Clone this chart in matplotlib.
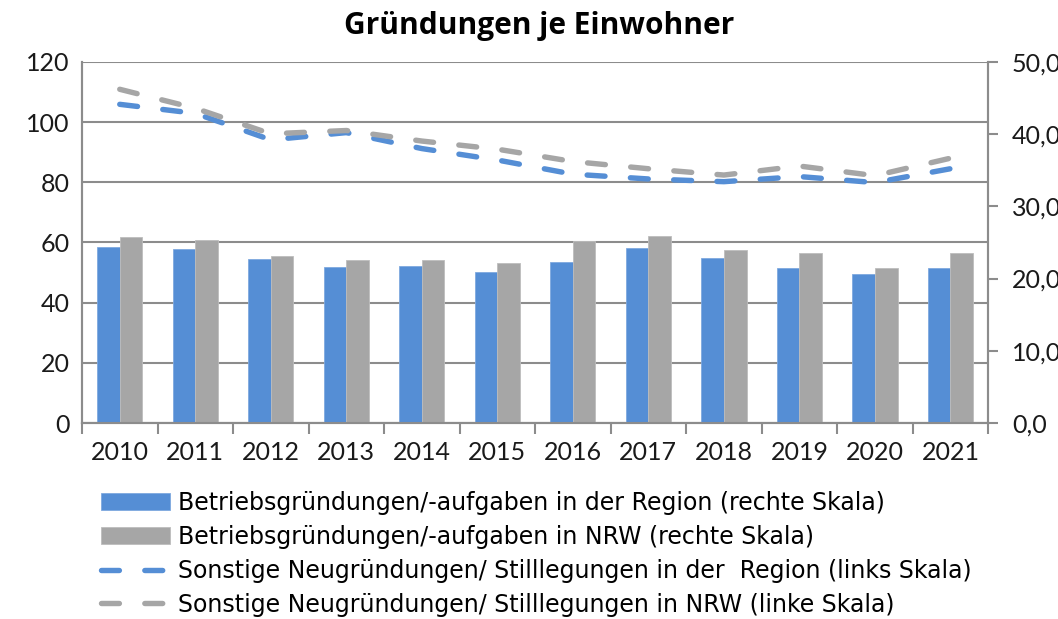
import matplotlib
matplotlib.use("Agg")
import matplotlib.pyplot as plt
import numpy as np
from matplotlib.ticker import FuncFormatter, FixedLocator

# --- data ---
years = ["2010", "2011", "2012", "2013", "2014", "2015",
         "2016", "2017", "2018", "2019", "2020", "2021"]
bars_region = [24.4, 24.1, 22.7, 21.6, 21.8, 20.9, 22.3, 24.2, 22.8, 21.4, 20.6, 21.5]
bars_nrw = [25.7, 25.3, 23.1, 22.6, 22.6, 22.1, 25.2, 25.9, 24.0, 23.6, 21.5, 23.6]
lines_region = [105.9, 102.9, 94.1, 96.5, 91.2, 87.4, 82.7, 81.1, 80.2, 81.9, 79.9, 84.5]
lines_nrw = [110.9, 104.6, 96.1, 97.2, 93.7, 91.0, 86.9, 84.5, 82.4, 85.4, 82.2, 88.0]

labels = [
    "Betriebsgründungen/-aufgaben in der Region (rechte Skala)",
    "Betriebsgründungen/-aufgaben in NRW (rechte Skala)",
    "Sonstige Neugründungen/ Stilllegungen in der  Region (links Skala)",
    "Sonstige Neugründungen/ Stilllegungen in NRW (linke Skala)",
]

BLUE = "#558ed5"
GRAY = "#a6a6a6"
AXIS = "#8c8c8c"

plt.rcParams["font.family"] = ["Lato", "DejaVu Sans"]

fig = plt.figure(figsize=(10.58, 6.19), dpi=100)
ax = fig.add_axes([0.0775, 0.3166, 0.8565, 0.5834])
ax2 = ax.twinx()

x = np.arange(len(years))
w = 0.3

# --- lines on the left scale ---
dash = dict(lw=3.9, dashes=(3.3, 4.7), dash_capstyle="round", solid_capstyle="round")
l1, = ax.plot(x, lines_region, color=BLUE, label=labels[2], **dash)
l2, = ax.plot(x, lines_nrw, color=GRAY, label=labels[3], **dash)

ax.set_ylim(0, 120)
ax.set_yticks(np.arange(0, 121, 20))
ax.yaxis.grid(True, color=AXIS, lw=1.5)
ax.set_axisbelow(True)
ax.tick_params(axis="y", length=0, labelsize=18, pad=9, colors="#1a1a1a")

ax.set_xlim(-0.5, len(years) - 0.5)
ax.set_xticks(x)
ax.set_xticklabels(years)
ax.xaxis.set_minor_locator(FixedLocator(np.arange(-0.5, len(years), 1)))
ax.tick_params(axis="x", which="major", length=0, labelsize=18, pad=13, colors="#1a1a1a")
ax.tick_params(axis="x", which="minor", length=8, width=1.5, color=AXIS)

# --- bars on the right scale ---
b1 = ax2.bar(x - w / 2, bars_region, w, color=BLUE, edgecolor="#7fa9df", lw=0.6,
             label=labels[0])
b2 = ax2.bar(x + w / 2, bars_nrw, w, color=GRAY, edgecolor="#bdbdbd", lw=0.6,
             label=labels[1])
ax2.set_ylim(0, 50)
ax2.set_yticks(np.arange(0, 51, 10))
ax2.yaxis.set_major_formatter(FuncFormatter(lambda v, p: f"{v:.1f}".replace(".", ",")))
ax2.tick_params(axis="y", length=7, width=1.5, color=AXIS, labelsize=18, pad=10,
                labelcolor="#1a1a1a")

for a in (ax, ax2):
    a.spines["top"].set_visible(False)
    for s in ("left", "right", "bottom"):
        a.spines[s].set_color(AXIS)
        a.spines[s].set_linewidth(1.5)

fig.suptitle("Gründungen je Einwohner", x=0.5095, y=0.982, fontsize=21.5,
             fontweight="bold", family=["Open Sans", "DejaVu Sans"])

fig.legend([b1, b2, l1, l2], labels, loc="upper left",
           bbox_to_anchor=(0.0955, 0.207), frameon=False,
           prop={"family": "DejaVu Sans", "size": 17},
           handlelength=2.92, handleheight=0.68, handletextpad=0.34,
           labelspacing=0.42, borderpad=0, borderaxespad=0)

fig.savefig("out.png", dpi=100)
